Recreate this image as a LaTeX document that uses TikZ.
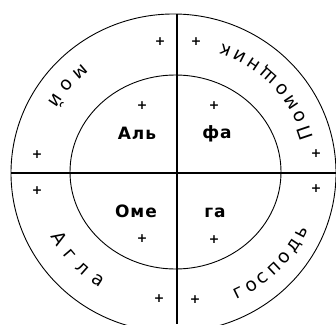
\documentclass[tikz,border=0pt]{standalone}
\usepackage{fontspec}
\setmainfont{DejaVu Sans}
\usetikzlibrary{decorations.text}
\newcommand\arcfont{\fontsize{18.5}{18.5}\selectfont}
\begin{document}
\begin{tikzpicture}[x=1pt,y=1pt,
  ring/.style={line width=0.9pt},
  axisline/.style={line width=1.3pt},
  lbl/.style={font=\fontsize{17}{17}\selectfont\bfseries\addfontfeature{LetterSpace=6}, inner sep=0},
  pl/.style={font=\fontsize{12.5}{12.5}\selectfont\bfseries, inner sep=0},
  arctext/.style={decorate, decoration={text along path, text align=fit to path, text={|\arcfont|#1}}}]
\useasboundingbox (0,0) rectangle (336,324);
\clip (0,0) rectangle (336,324);
\fill[white] (0,0) rectangle (336,324);
% circles
\coordinate (oc) at (173.5,151);
\coordinate (ic) at (175.5,152);
\coordinate (tc) at (175,151);
\draw[ring] (oc) ellipse [x radius=162.5, y radius=159];
\draw[ring] (ic) ellipse [x radius=105.5, y radius=97];
% axes
\coordinate (hl) at (11,151);
\coordinate (hr) at (336,151);
\coordinate (vt) at (177,310);
\coordinate (vb) at (177,0);
\draw[axisline] (hl) -- (hr);
\draw[axisline] (vt) -- (vb);
% inner labels
\node[lbl] (alp) at (137,191) {Аль};
\node[lbl] (fa) at (217,190) {фа};
\node[lbl] (ome) at (136,113) {Оме};
\node[lbl] (ga) at (215,111) {га};
% pluses
\node[pl] (p1) at (142,218) {+};
\node[pl] (p2) at (214,218) {+};
\node[pl] (p3) at (142,85) {+};
\node[pl] (p4) at (214,84) {+};
\node[pl] (p5) at (160,282) {+};
\node[pl] (p6) at (196,282) {+};
\node[pl] (p7) at (37,169) {+};
\node[pl] (p8) at (316,170) {+};
\node[pl] (p9) at (37,133) {+};
\node[pl] (p10) at (316,135) {+};
\node[pl] (p11) at (159,25) {+};
\node[pl] (p12) at (195,24) {+};
% ring texts
\path[arctext={мой}] (tc) ++(129:147 and 141) arc[start angle=129, end angle=150, x radius=147, y radius=141];
\path[arctext={Помощник}] (tc) ++(15:143 and 137) arc[start angle=15, end angle=71, x radius=143, y radius=137];
\path[arctext={Агла}] (tc) ++(208:141 and 135) arc[start angle=208, end angle=238, x radius=141, y radius=135];
\path[arctext={господь}] (tc) ++(295:146 and 140) arc[start angle=295, end angle=336, x radius=146, y radius=140];
\end{tikzpicture}
\end{document}
